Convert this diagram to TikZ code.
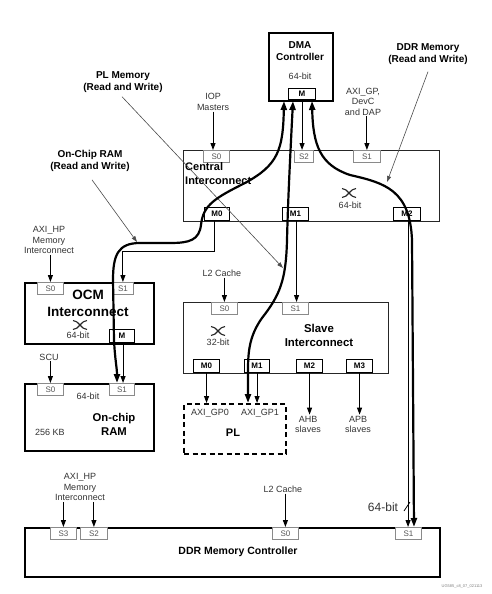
\documentclass[tikz,border=0pt]{standalone}
\usepackage{fontspec}
\setmainfont{Liberation Sans}
\usetikzlibrary{arrows.meta,calc}
\definecolor{txt}{HTML}{333333}
\definecolor{pgray}{HTML}{8A8A8A}
\definecolor{ptxt}{HTML}{555555}
\tikzset{pics/xbar/.style={code={
  \draw[line width=1.1pt,black!85] (-7,-4.5) .. controls (-1,-4.5) and (1,4.5) .. (7,4.5);
  \draw[line width=1.1pt,black!85] (-7,4.5) .. controls (-1,4.5) and (1,-4.5) .. (7,-4.5);}}}
\begin{document}
\begin{tikzpicture}[x=1pt,y=-1pt,
 lbl/.style={inner sep=1pt, align=center, text=txt, font=\fontsize{9}{10.5}\selectfont},
 blbl/.style={inner sep=1pt, align=center, text=black, font=\bfseries\fontsize{10}{12}\selectfont},
 sport/.style={draw=pgray, line width=0.8pt, fill=white, inner sep=0pt, minimum height=12pt, text=ptxt, font=\fontsize{8}{8}\selectfont},
 mport/.style={draw=black, line width=1.1pt, fill=white, inner sep=0pt, minimum height=13pt, text=black, font=\bfseries\fontsize{8}{8}\selectfont},
 thinbox/.style={draw=black!85, line width=1.2pt, inner sep=0pt},
 thickbox/.style={draw=black, line width=2pt, inner sep=0pt},
 conn/.style={line width=1pt, -{Triangle[length=7pt,width=5pt]}},
 bus/.style={line width=2.2pt, {Triangle[length=9pt,width=6pt]}-{Triangle[length=9pt,width=6pt]}},
 note/.style={line width=0.6pt, draw=black!70, -{Triangle[length=6pt,width=4pt]}},
]
\useasboundingbox (0,0) rectangle (491,594);
\fill[white] (0,0) rectangle (491,594);

% ---------- boxes ----------
\node[thickbox, minimum width=64pt, minimum height=68pt, anchor=north west] (dma) at (268,32) {};
\node[thinbox, minimum width=256pt, minimum height=71pt, anchor=north west] (central) at (183,150) {};
\node[draw=black, line width=1.5pt, inner sep=0pt, minimum width=129pt, minimum height=61pt, anchor=north west] (ocm) at (24,282) {};
\node[thickbox, minimum width=129pt, minimum height=67pt, anchor=north west] (ram) at (24,383) {};
\node[thinbox, minimum width=205pt, minimum height=71pt, anchor=north west] (slave) at (183,302) {};
\node[draw=black, line width=2pt, dash pattern=on 5pt off 3.5pt, inner sep=0pt, minimum width=102pt, minimum height=50pt, anchor=north west] (pl) at (183,403) {};
\node[thickbox, minimum width=415pt, minimum height=49pt, anchor=north west] (ddr) at (24,527) {};

% ---------- ports ----------
\node[mport, minimum width=27pt, minimum height=11pt, anchor=south west] (dM) at (288,100) {M};
\node[sport, minimum width=26pt, anchor=north west] (cS0) at (203,150) {S0};
\node[sport, minimum width=19pt, anchor=north west] (cS2) at (294,150) {S2};
\node[sport, minimum width=27pt, anchor=north west] (cS1) at (353,150) {S1};
\node[mport, minimum width=25pt, anchor=south west] (cM0) at (204,221) {M0};
\node[mport, minimum width=26pt, anchor=south west] (cM1) at (282,221) {M1};
\node[mport, minimum width=27pt, anchor=south west] (cM2) at (393,221) {M2};

\node[sport, minimum width=26pt, anchor=north west] (oS0) at (37,282) {S0};
\node[sport, minimum width=21pt, anchor=north west] (oS1) at (112,282) {S1};
\node[mport, minimum width=25pt, anchor=south west] (oM) at (109,343) {M};

\node[sport, minimum width=26pt, anchor=north west] (rS0) at (37,383) {S0};
\node[sport, minimum width=25pt, anchor=north west] (rS1) at (109,383) {S1};

\node[sport, minimum width=26pt, anchor=north west] (sS0) at (211,302) {S0};
\node[sport, minimum width=26pt, anchor=north west] (sS1) at (282,302) {S1};
\node[mport, minimum width=26pt, anchor=south west] (sM0) at (193,373) {M0};
\node[mport, minimum width=25pt, anchor=south west] (sM1) at (244,373) {M1};
\node[mport, minimum width=26pt, anchor=south west] (sM2) at (296,373) {M2};
\node[mport, minimum width=26pt, anchor=south west] (sM3) at (346,373) {M3};

\node[sport, minimum width=26pt, anchor=north west] (dS3) at (50,527) {S3};
\node[sport, minimum width=27pt, anchor=north west] (dS2) at (80,527) {S2};
\node[sport, minimum width=26pt, anchor=north west] (dS0) at (272,527) {S0};
\node[sport, minimum width=26pt, anchor=north west] (dS1) at (395,527) {S1};

% ---------- texts ----------
\node[blbl] (dmat) at (300,51) {DMA\\Controller};
\node[lbl] (dmab) at (300,76) {64-bit};
\node[lbl] (iop) at (213,102) {IOP\\Masters};
\node[lbl] (axgp) at (363,101.5) {AXI\_GP,\\DevC\\and DAP};
\node[blbl] (plm) at (123,82) {PL Memory\\(Read and Write)};
\node[blbl] (ocr) at (90,161) {On-Chip RAM\\(Read and Write)};
\node[blbl] (ddrm) at (428,54) {DDR Memory\\(Read and Write)};
\node[inner sep=0pt, align=left, anchor=west, font=\bfseries\fontsize{11}{14}\selectfont] (cit) at (185,174) {Central\\Interconnect};
\pic at (349,193) {xbar};
\node[lbl] (cib) at (350,205) {64-bit};
\node[lbl] (hp1) at (49,240) {AXI\_HP\\Memory\\Interconnect};
\node[inner sep=0pt, align=center, font=\bfseries\fontsize{13.5}{17}\selectfont] (ocmt) at (88,303.5) {OCM\\Interconnect};
\pic at (80,325) {xbar};
\node[lbl] (ocmb) at (78,335.5) {64-bit};
\node[lbl] (l2a) at (222,273) {L2 Cache};
\node[inner sep=0pt, align=center, font=\bfseries\fontsize{11.4}{14}\selectfont] (slt) at (319,335) {Slave\\Interconnect};
\pic at (218,331) {xbar};
\node[lbl] (slb) at (218,342) {32-bit};
\node[lbl] (scu) at (49,357) {SCU};
\node[lbl] (ramb) at (88,396) {64-bit};
\node[inner sep=0pt, align=center, font=\bfseries\fontsize{11.3}{13.5}\selectfont] (ramt) at (114,424.5) {On-chip\\RAM};
\node[lbl] (ramk) at (50,432) {256 KB};
\node[lbl] (gp0) at (210,413) {AXI\_GP0};
\node[lbl] (gp1) at (260,413) {AXI\_GP1};
\node[inner sep=0pt, font=\bfseries\fontsize{11}{13}\selectfont] (plt) at (233,433) {PL};
\node[lbl, font=\fontsize{9}{10}\selectfont] (ahb) at (308,424) {AHB\\slaves};
\node[lbl, font=\fontsize{9}{10}\selectfont] (apb) at (358,424) {APB\\slaves};
\node[lbl] (hp2) at (80,487) {AXI\_HP\\Memory\\Interconnect};
\node[lbl] (l2b) at (283,489) {L2 Cache};
\node[inner sep=0pt, text=txt, font=\fontsize{12}{12}\selectfont] (w64) at (383,507) {64-bit};
\node[inner sep=0pt, font=\bfseries\fontsize{10.5}{12}\selectfont] (ddrt) at (238,552) {DDR Memory Controller};
\node[inner sep=0pt, text=black!50, font=\fontsize{4}{4}\selectfont] (fig) at (462,586) {UG585\_c8\_07\_021113};

% ---------- thin connectors ----------
\draw[conn] (iop.south) -- (iop.south |- cS0.north);
\draw[conn] (dM.south) -- (dM.south |- cS2.north);
\draw[conn] (cS1.north |- axgp.south) -- (cS1.north);
\draw[conn] ([xshift=-3pt]cM0.south) -- ++(0,30) -| (oS1.north);
\draw[conn] ([xshift=1pt]cM1.south) -- ([xshift=1pt]cM1.south |- sS1.north);
\draw[conn] ([xshift=1pt]cM2.south) -- ([xshift=1pt]cM2.south |- dS1.north);
\draw[conn] (oS0.north |- hp1.south) -- (oS0.north);
\draw[conn] (sS0.north |- l2a.south) -- (sS0.north);
\draw[conn] (rS0.north |- scu.south) -- (rS0.north);
\draw[conn] ([xshift=1pt]oM.south) -- ([xshift=1pt]oM.south |- rS1.north);
\draw[conn] (sM0.south) -- (sM0.south |- pl.north);
\draw[conn] (sM1.south) -- (sM1.south |- pl.north);
\draw[conn] (sM2.south) -- (sM2.south |- ahb.north);
\draw[conn] (sM3.south) -- (sM3.south |- apb.north);
\draw[conn] (dS3.north |- hp2.south) -- (dS3.north);
\draw[conn] (dS2.north |- hp2.south) -- (dS2.north);
\draw[conn] (dS0.north |- l2b.south) -- (dS0.north);
\draw[line width=0.8pt] (404,511) -- (410,502);

% ---------- annotation pointers ----------
\coordinate (plmTip) at (283,268);
\coordinate (ocrTip) at (137,242);
\coordinate (ddrTip) at (387,182);
\draw[note] ($(plm.south)+(-1,3)$) -- (plmTip);
\draw[note] ($(ocr.south)+(2,7)$) -- (ocrTip);
\draw[note] ($(ddrm.south)+(0,6)$) -- (ddrTip);

% ---------- thick bus paths ----------
\coordinate (aTop) at (284,101);
\coordinate (aEnd) at (117,383);
\coordinate (bTop) at (293,101);
\coordinate (bEnd) at (248,403);
\coordinate (cTop) at (312,101);
\coordinate (cEnd) at (414,527);
\draw[bus] (aTop) .. controls (283,150) and (278,165) .. (245,183)
  .. controls (215,198) and (203,205) .. (201,225)
  .. controls (199,240) and (190,243) .. (170,243)
  -- (140,243)
  .. controls (118,243) and (113,255) .. (113,280)
  -- (114,340) .. controls (115,360) and (117,368) .. (aEnd);
\draw[bus] (bTop) .. controls (290,160) and (288,200) .. (287,240)
  .. controls (286,280) and (280,295) .. (262,318)
  .. controls (250,335) and (248,350) .. (248,370) -- (bEnd);
\draw[bus] (cTop) .. controls (313,145) and (320,165) .. (350,175)
  .. controls (385,183) and (410,190) .. (412,240) -- (cEnd);
\end{tikzpicture}
\end{document}
